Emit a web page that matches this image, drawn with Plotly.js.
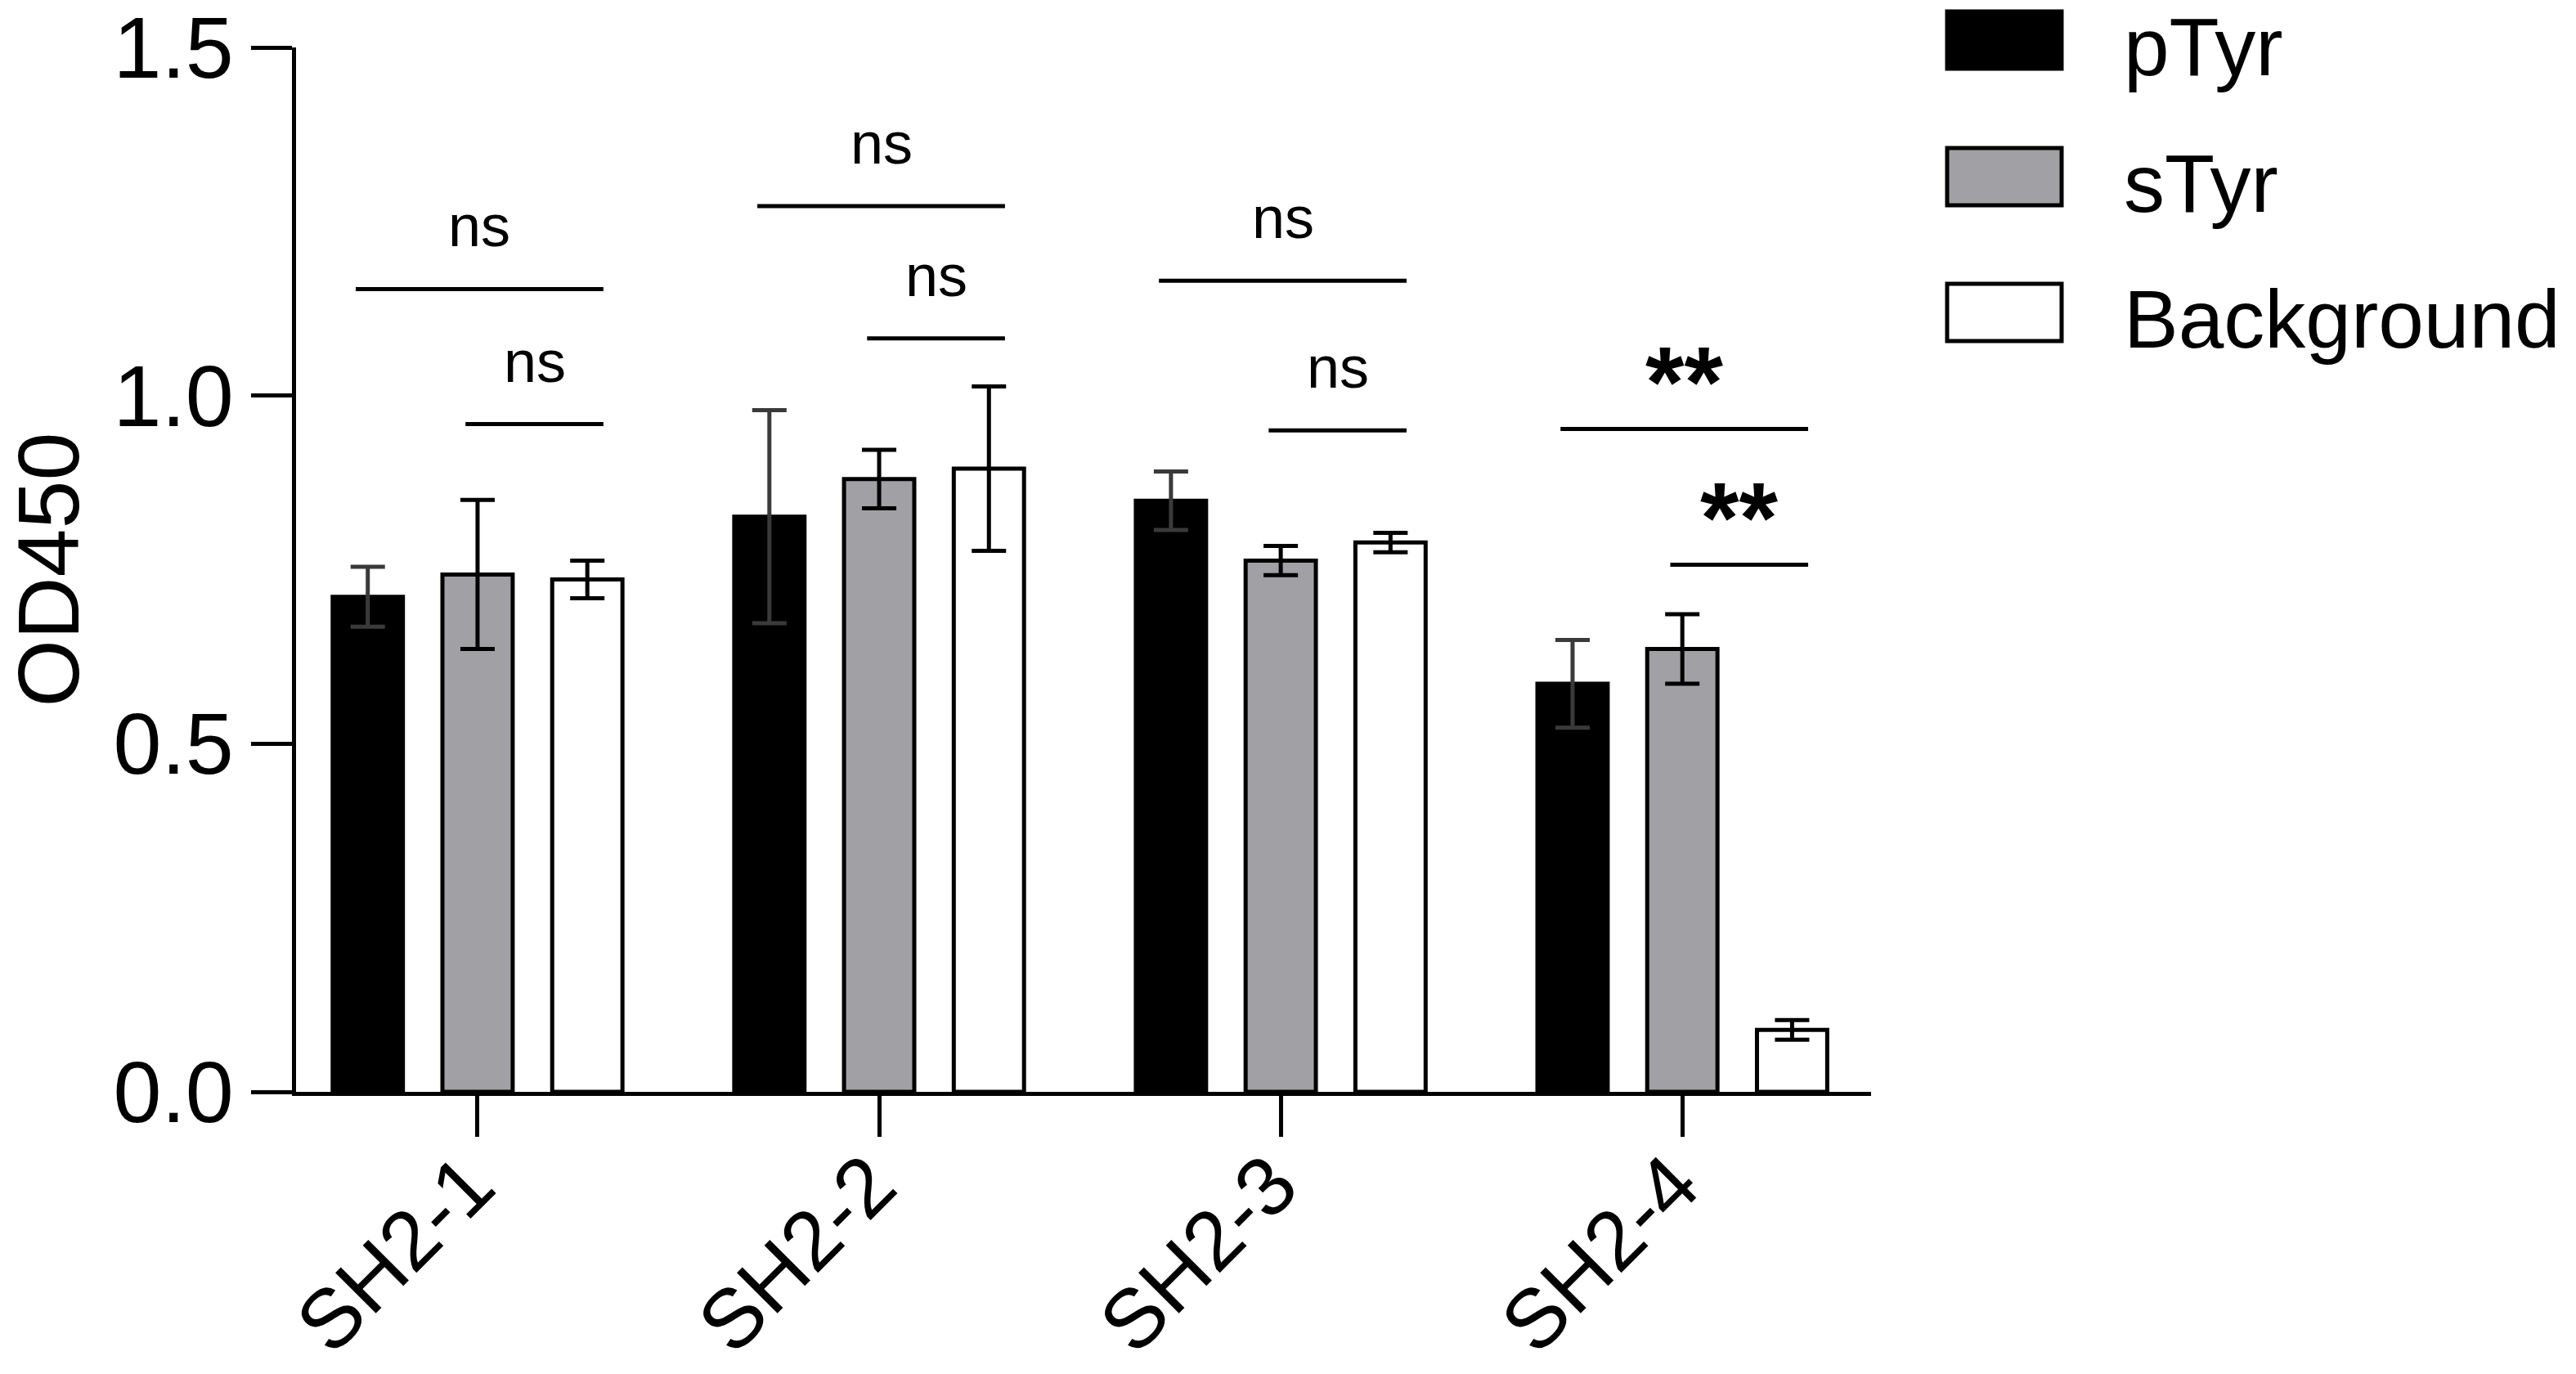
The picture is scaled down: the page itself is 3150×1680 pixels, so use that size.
<!DOCTYPE html>
<html>
<head>
<meta charset="utf-8">
<script src="https://cdn.plot.ly/plotly-3.0.1.min.js"></script>
<style>html,body{margin:0;padding:0;background:#fff;}#chart{width:3150px;height:1680px;}</style>
</head>
<body>
<div id="chart"></div>
<script>
// ---- data ----
const categories = ['SH2-1', 'SH2-2', 'SH2-3', 'SH2-4'];
const seriesNames = ['pTyr', 'sTyr', 'Background'];
const pTyr = [0.711, 0.826, 0.849, 0.586];
const pTyrErr = [0.043, 0.153, 0.042, 0.063];
const sTyr = [0.743, 0.880, 0.763, 0.636];
const sTyrErr = [0.107, 0.042, 0.021, 0.050];
const background = [0.736, 0.895, 0.789, 0.089];
const backgroundErr = [0.027, 0.118, 0.014, 0.014];
const yTickVals = [0, 0.5, 1.0, 1.5];
const yTickText = ['0.0', '0.5', '1.0', '1.5'];
// significance comparisons
const sigGroup = [0, 0, 1, 1, 2, 2, 3, 3];
const sigFrom = [0, 1, 0, 1, 0, 1, 0, 1];
const sigTo = [2, 2, 2, 2, 2, 2, 2, 2];
const sigLevel = [1.153, 0.959, 1.272, 1.082, 1.165, 0.950, 0.952, 0.757];
const sigLabel = ['ns', 'ns', 'ns', 'ns', 'ns', 'ns', '**', '**'];

// ---- styling ----
const FONT = 'Liberation Sans, Arial, sans-serif';
const fills = ['#000000', '#a0a0a5', '#ffffff'];
const errColors = ['#3a3a3a', '#000000', '#000000'];
const values = [pTyr, sTyr, background];
const errs = [pTyrErr, sTyrErr, backgroundErr];
const BARGAP = 0.18;
const slot = (1 - BARGAP) / 3;

const traces = seriesNames.map((name, i) => ({
  type: 'bar',
  name: name,
  x: categories,
  y: values[i],
  marker: {color: fills[i], line: {color: '#000', width: 5}},
  error_y: {type: 'data', array: errs[i], visible: true, color: errColors[i], thickness: 5, width: 21},
  showlegend: false,
  hoverinfo: 'x+y'
}));

// plot area in px (for legend placement)
const L = 362, R = 2288, T = 58, B = 1335;
const px2x = p => (p - L) / (R - L);
const px2y = p => (B - p) / (B - T);

const shapes = [];
const annotations = [];
sigGroup.forEach((g, k) => {
  const x0 = g + (sigFrom[k] - 1) * slot - 0.03;
  const x1 = g + (sigTo[k] - 1) * slot + 0.04;
  shapes.push({type: 'line', xref: 'x', yref: 'y', x0: x0, x1: x1, y0: sigLevel[k], y1: sigLevel[k],
    line: {color: '#000', width: 5}});
  const isStar = sigLabel[k].indexOf('*') >= 0;
  annotations.push({xref: 'x', yref: 'y', x: (x0 + x1) / 2, y: sigLevel[k],
    text: isStar ? '<b>' + sigLabel[k] + '</b>' : sigLabel[k],
    showarrow: false, xanchor: 'center', yanchor: 'middle',
    yshift: isStar ? 58 : 77,
    font: {family: FONT, size: isStar ? 122 : 72, color: '#000'}});
});

// custom legend (large swatches)
const legRowY = [49, 216, 382];
seriesNames.forEach((name, i) => {
  shapes.push({type: 'rect', xref: 'paper', yref: 'paper',
    x0: px2x(2381), x1: px2x(2521), y0: px2y(legRowY[i] - 35), y1: px2y(legRowY[i] + 35),
    fillcolor: fills[i], line: {color: '#000', width: 5}});
  annotations.push({xref: 'paper', yref: 'paper', x: px2x(2595), y: px2y(legRowY[i] + 8),
    text: name, showarrow: false, xanchor: 'left', yanchor: 'middle',
    font: {family: FONT, size: 100, color: '#000'}});
});

const layout = {
  width: 3150, height: 1680,
  margin: {l: L, r: 3150 - R, t: T, b: 1680 - B, pad: 0},
  paper_bgcolor: '#fff', plot_bgcolor: '#fff',
  font: {family: FONT, color: '#000'},
  barmode: 'group', bargap: BARGAP, bargroupgap: 0.36,
  showlegend: false,
  xaxis: {
    type: 'category', range: [-0.452, 3.470], fixedrange: true,
    showline: true, linecolor: '#000', linewidth: 5,
    ticks: 'outside', ticklen: 50, tickwidth: 5, tickcolor: '#000',
    tickangle: -45, tickfont: {family: FONT, size: 102, color: '#000'},
    ticklabelstandoff: -42, ticklabelshift: -10, ticklabeloverflow: 'allow',
    showgrid: false, zeroline: false, automargin: false
  },
  yaxis: {
    range: [0, 1.5], fixedrange: true,
    tickvals: yTickVals, ticktext: yTickText,
    showline: true, linecolor: '#000', linewidth: 5,
    ticks: 'outside', ticklen: 50, tickwidth: 5, tickcolor: '#000',
    tickfont: {family: FONT, size: 106, color: '#000'},
    ticklabeloverflow: 'allow',
    showgrid: false, zeroline: false, automargin: false,
    title: {text: 'OD450', font: {family: FONT, size: 106, color: '#000'}, standoff: 58}
  },
  shapes: shapes,
  annotations: annotations
};

Plotly.newPlot('chart', traces, layout, {displayModeBar: false, staticPlot: true});
</script>
</body>
</html>
